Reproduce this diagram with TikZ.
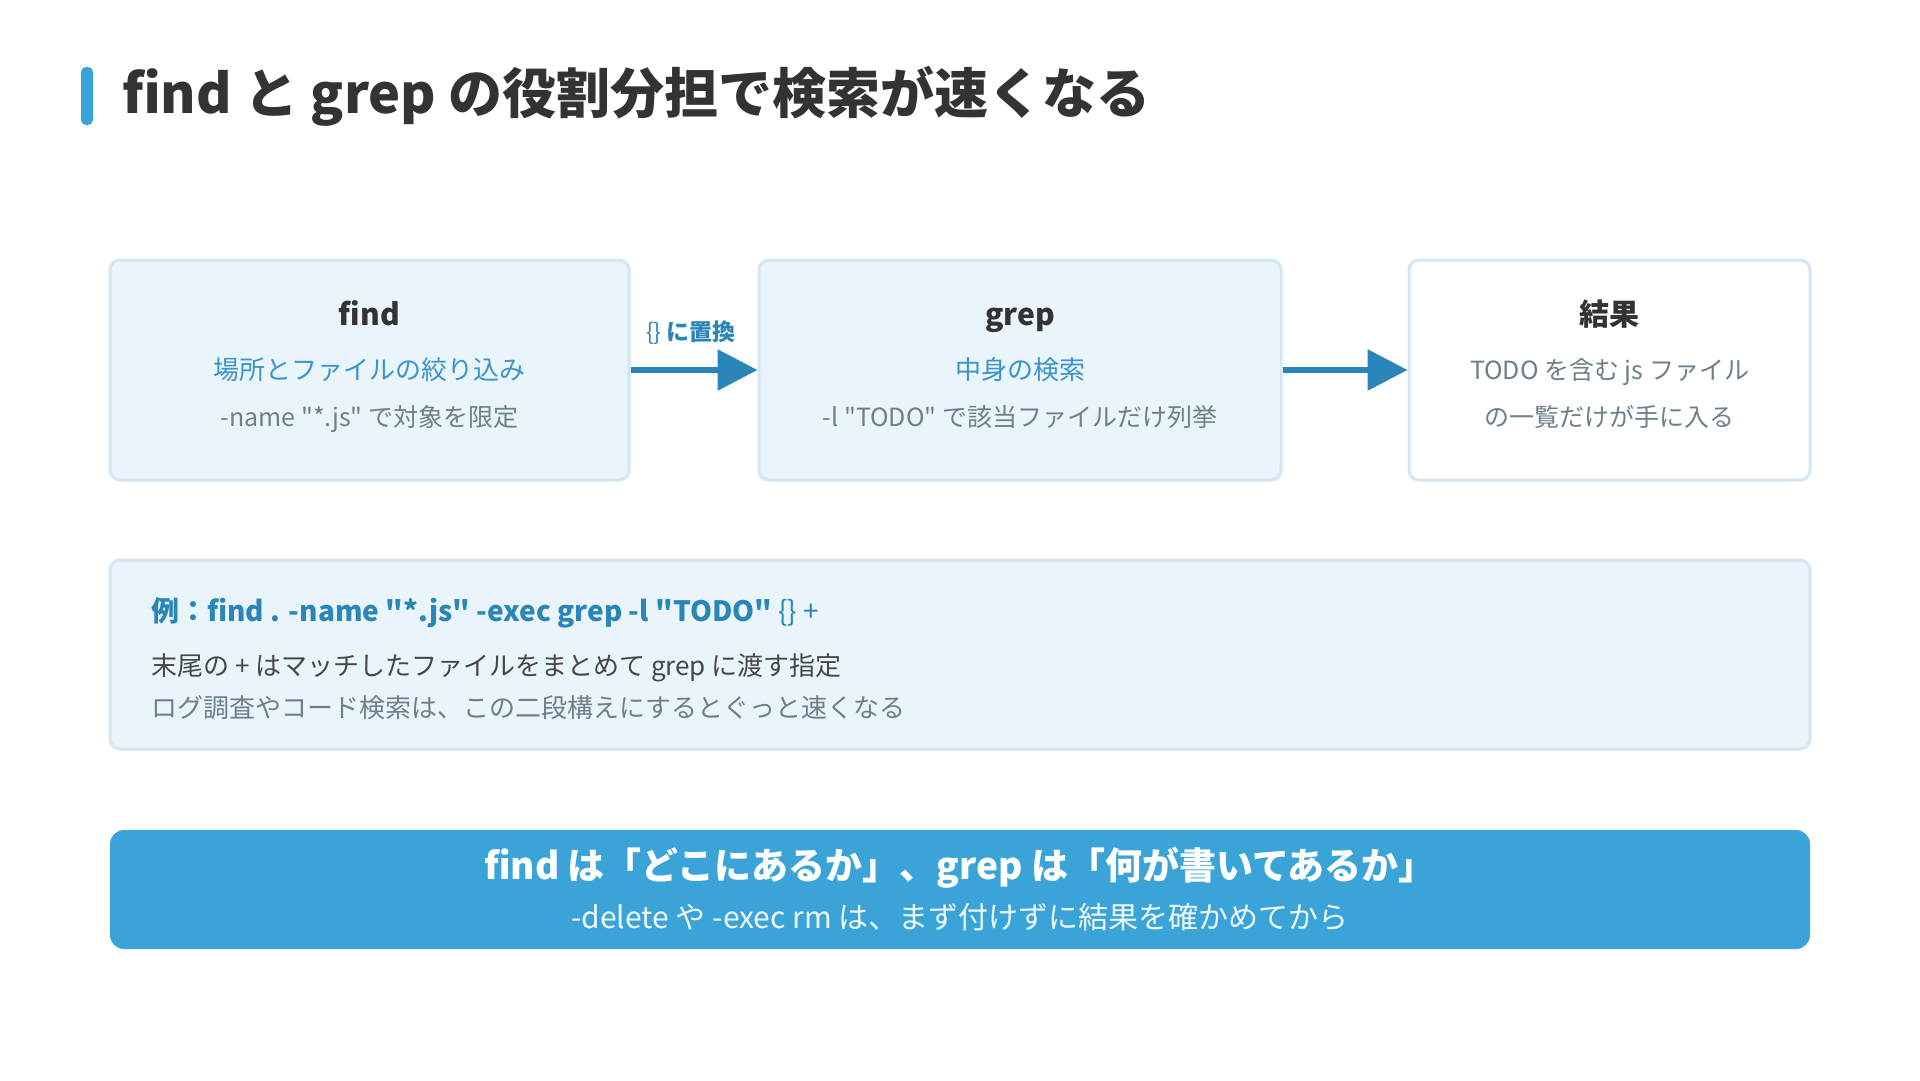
\documentclass[tikz,border=0pt]{standalone}
\usepackage{fontspec}
\setmainfont{Noto Sans CJK JP}[Ligatures=TeXOff]
\usetikzlibrary{arrows.meta}
\definecolor{ink}{HTML}{333333}
\definecolor{accent}{HTML}{3AA3D8}
\definecolor{arrowblue}{HTML}{2A86B8}
\definecolor{subblue}{HTML}{3B95C8}
\definecolor{grayink}{HTML}{6E7F8C}
\definecolor{boxfill}{HTML}{EAF4FB}
\definecolor{boxline}{HTML}{D2E6F3}
\newcommand{\fs}[1]{\fontsize{#1}{#1}\selectfont}
\tikzset{
  panel/.style={draw=boxline, line width=3pt, rounded corners=10pt, fill=boxfill},
  whitepanel/.style={panel, fill=white},
  flow/.style={draw=arrowblue, line width=6pt, -{Triangle[length=40pt, width=40pt]}},
  txt/.style={inner sep=0pt, anchor=base},
}
\begin{document}
\begin{tikzpicture}[x=1pt,y=-1pt]
\path[use as bounding box, fill=white] (0,0) rectangle (1920,1080);
% title
\fill[accent, rounded corners=5pt] (81,67) rectangle (93,125) coordinate (tb);
\node[txt, anchor=base west, text=ink] (title) at (122,113) {\fs{54}\bfseries find と grep の役割分担で検索が速くなる};
% boxes
\node[panel, minimum width=519pt, minimum height=220pt] (b1) at (369.5,370) {};
\node[panel, minimum width=522pt, minimum height=220pt] (b2) at (1020,370) {};
\node[whitepanel, minimum width=401pt, minimum height=220pt] (b3) at (1609.5,370) {};
% box texts
\node[txt, text=ink] (t1) at (369.5,325) {\fs{30}\bfseries find};
\node[txt, text=subblue] (s1) at (369.5,379) {\fs{26}場所とファイルの絞り込み};
\node[txt, text=grayink] (d1) at (369.5,426) {\fs{25}-name "*.js" で対象を限定};
\node[txt, text=ink] (t2) at (1020,325) {\fs{30}\bfseries grep};
\node[txt, text=subblue] (s2) at (1020,379) {\fs{26}中身の検索};
\node[txt, text=grayink] (d2) at (1020,426) {\fs{25}-l "TODO" で該当ファイルだけ列挙};
\node[txt, text=ink] (t3) at (1609.5,325) {\fs{30}\bfseries 結果};
\node[txt, text=grayink] (s3) at (1609.5,379) {\fs{25}TODO を含む js ファイル};
\node[txt, text=grayink] (d3) at (1609.5,426) {\fs{25}の一覧だけが手に入る};
% arrows
\draw[flow] (b1.east) -- (b2.west);
\draw[flow] (b2.east) -- (b3.west);
\node[txt, text=arrowblue] (lab) at (691,340) {\fs{23}\{\} \bfseries に置換};
% example panel
\node[panel, minimum width=1700pt, minimum height=189pt] (ex) at (960,654.5) {};
\node[txt, anchor=base west, text=arrowblue] (e1) at (151,621) {\fs{28}\bfseries 例：find . -name "*.js" -exec grep -l "TODO" \mdseries\{\} +};
\node[txt, anchor=base west, text=ink!90] (e2) at (151,675) {\fs{26}末尾の + はマッチしたファイルをまとめて grep に渡す指定};
\node[txt, anchor=base west, text=grayink] (e3) at (151,717) {\fs{26}ログ調査やコード検索は、この二段構えにするとぐっと速くなる};
% banner
\node[fill=accent, rounded corners=14pt, minimum width=1700pt, minimum height=119pt] (ban) at (960,889.5) {};
\node[txt, text=white] (m1) at (960,879) {\fs{37}\bfseries find は「どこにあるか」、grep は「何が書いてあるか」};
\node[txt, text=white!92!accent] (m2) at (960,928) {\fs{30}-delete や -exec rm は、まず付けずに結果を確かめてから};
\end{tikzpicture}
\end{document}
